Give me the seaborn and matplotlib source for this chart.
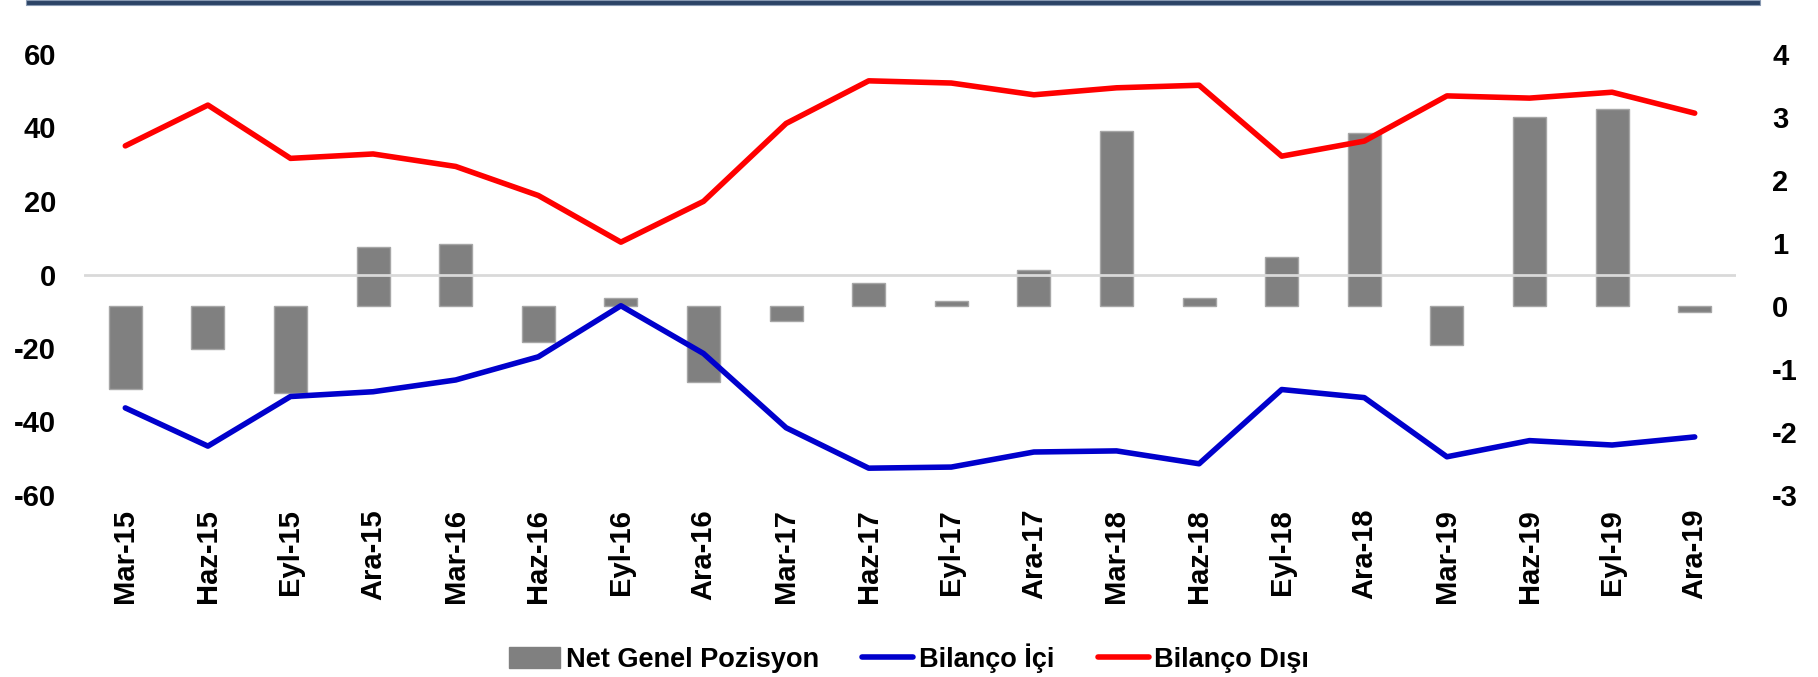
import pandas as pd
import numpy as np
import seaborn as sns
import matplotlib.pyplot as plt
from matplotlib.patches import Rectangle, Patch
from matplotlib.lines import Line2D

donemler = ['Mar-15', 'Haz-15', 'Eyl-15', 'Ara-15', 'Mar-16', 'Haz-16', 'Eyl-16', 'Ara-16',
            'Mar-17', 'Haz-17', 'Eyl-17', 'Ara-17', 'Mar-18', 'Haz-18', 'Eyl-18', 'Ara-18',
            'Mar-19', 'Haz-19', 'Eyl-19', 'Ara-19']

# sag eksen (bar)
net_genel = [-1.31, -0.68, -1.38, 0.94, 0.98, -0.57, 0.13, -1.20,
             -0.24, 0.37, 0.08, 0.57, 2.78, 0.13, 0.78, 2.75,
             -0.62, 3.00, 3.12, -0.10]
# sol eksen (cizgiler)
bilanco_ici = [-36.3, -46.7, -33.2, -31.9, -28.7, -22.4, -8.5, -21.5,
               -41.7, -52.7, -52.4, -48.3, -48.0, -51.5, -31.3, -33.5,
               -49.6, -45.2, -46.4, -44.2]
bilanco_disi = [35.0, 46.1, 31.6, 32.8, 29.4, 21.5, 8.8, 19.9,
                41.1, 52.7, 52.1, 48.9, 50.8, 51.5, 32.2, 36.3,
                48.6, 48.0, 49.6, 43.9]

df = pd.DataFrame({'donem': donemler, 'net': net_genel,
                   'ici': bilanco_ici, 'disi': bilanco_disi})
df['sira'] = np.arange(len(df))

sns.set_style('white')
plt.rcParams['font.family'] = ['Liberation Sans', 'DejaVu Sans']
plt.rcParams['font.weight'] = 'bold'
plt.rcParams['axes.unicode_minus'] = False
plt.rcParams['text.color'] = 'black'
plt.rcParams['xtick.color'] = 'black'
plt.rcParams['ytick.color'] = 'black'

fig = plt.figure(figsize=(18.18, 6.77), dpi=100)
ax = fig.add_axes([84 / 1818, 1 - 495 / 677, (1736 - 84) / 1818, (495 - 54) / 677])

sns.barplot(data=df, x='donem', y='net', ax=ax, color='#808080', saturation=1,
            width=0.4, edgecolor='#a6a6a6', linewidth=1)
ax.set_ylim(-3, 4)
ax.set_xlim(-0.5, len(df) - 0.5)

ax2 = ax.twinx()
ax.yaxis.tick_right()
ax2.yaxis.tick_left()
ax2.axhline(0, color='#d9d9d9', lw=2, zorder=1)
sns.lineplot(data=df, x='sira', y='ici', ax=ax2, color='#0000CC', lw=4, zorder=3)
sns.lineplot(data=df, x='sira', y='disi', ax=ax2, color='#FF0000', lw=4, zorder=3)
ax2.set_ylim(-60, 60)
ax2.set_yticks([-60, -40, -20, 0, 20, 40, 60])
ax.set_yticks([-3, -2, -1, 0, 1, 2, 3, 4])

for a in (ax, ax2):
    for s in a.spines.values():
        s.set_visible(False)
    a.set_xlabel('')
    a.set_ylabel('')
    a.grid(False)

ax.tick_params(axis='x', length=0, pad=10, labelsize=21, rotation=90, labelcolor='black')
ax.tick_params(axis='y', length=0, pad=26, labelsize=21, labelcolor='black')
ax2.tick_params(axis='y', length=0, pad=20, labelsize=21, labelcolor='black')
for t in ax.get_xticklabels() + ax.get_yticklabels() + ax2.get_yticklabels():
    t.set_fontweight('bold')

# ust lacivert serit
fig.patches.append(Rectangle((26 / 1818, 1 - 5 / 677), (1760 - 26) / 1818, 5 / 677,
                             transform=fig.transFigure, facecolor='#2C4466',
                             edgecolor='#8a9bb3', lw=0.8, zorder=5))

handles = [Patch(facecolor='#808080', edgecolor='#808080'),
           Line2D([], [], color='#0000CC', lw=4),
           Line2D([], [], color='#FF0000', lw=4)]
labels = ['Net Genel Pozisyon', 'Bilanço İçi', 'Bilanço Dışı']
leg = fig.legend(handles, labels, loc='center', bbox_to_anchor=(0.5, 0.028), ncol=3,
                 frameon=False, prop={'size': 19.5, 'weight': 'bold'},
                 handlelength=1.9, handleheight=0.8, handletextpad=0.2, columnspacing=1.6)
for t in leg.get_texts():
    t.set_color('black')

plt.savefig('out.png', dpi=100)
plt.close()
